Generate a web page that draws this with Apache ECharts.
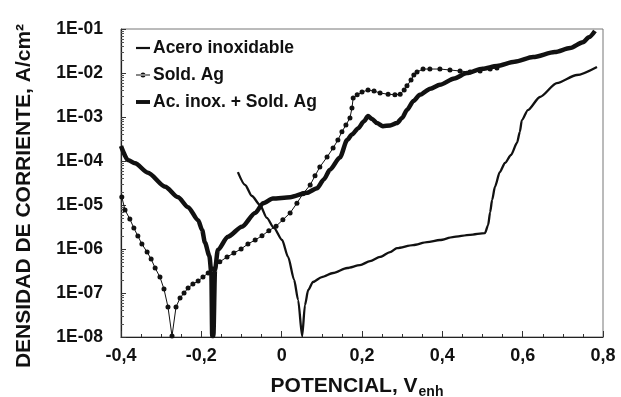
<!DOCTYPE html>
<html>
<head>
<meta charset="utf-8">
<script src="https://cdn.jsdelivr.net/npm/echarts@6/dist/echarts.min.js"></script>
<style>html,body{margin:0;padding:0;background:#fff}#c{width:621px;height:397px}</style>
</head>
<body>
<div id="c"></div>
<script>
// Series names
const seriesNames = ["Acero inoxidable", "Sold. Ag", "Ac. inox. + Sold. Ag"];

// Acero inoxidable (V, A/cm2)
const aceroV = [-0.109,-0.091,-0.074,-0.054,-0.037,-0.019,0.001,0.016,0.031,0.041,0.051,0.058,0.066,0.078,0.100,0.128,0.163,0.195,0.220,0.245,0.270,0.287,0.327,0.362,0.394,0.426,0.469,0.506,0.514,0.519,0.524,0.531,0.543,0.556,0.571,0.586,0.593,0.598,0.613,0.643,0.685,0.735,0.785];
const aceroI = [5.6e-5,2.85e-5,1.6e-5,1.0e-5,5.1e-6,3.0e-6,1.6e-6,6.6e-7,2.0e-7,6.9e-8,1.05e-8,5.3e-8,1.17e-7,1.78e-7,2.3e-7,2.85e-7,3.7e-7,4.3e-7,5.3e-7,6.6e-7,8.5e-7,1.05e-6,1.23e-6,1.44e-6,1.6e-6,1.87e-6,2.1e-6,2.3e-6,3.5e-6,6.9e-6,1.3e-5,2.6e-5,5.6e-5,9.0e-5,1.37e-4,2.6e-4,4.6e-4,8.5e-4,1.44e-3,2.85e-3,5.9e-3,9.0e-3,1.37e-2];

// Sold. Ag
const soldV = [-0.398,-0.390,-0.378,-0.368,-0.358,-0.348,-0.335,-0.325,-0.315,-0.303,-0.293,-0.283,-0.273,-0.263,-0.253,-0.243,-0.233,-0.221,-0.208,-0.196,-0.183,-0.171,-0.154,-0.136,-0.119,-0.101,-0.084,-0.066,-0.049,-0.032,-0.014,0.003,0.021,0.038,0.053,0.071,0.083,0.095,0.113,0.128,0.140,0.150,0.160,0.170,0.175,0.178,0.188,0.200,0.215,0.230,0.245,0.265,0.282,0.295,0.305,0.312,0.322,0.329,0.337,0.352,0.369,0.394,0.419,0.444,0.469,0.494,0.519,0.536];
const soldI = [1.52e-5,7.7e-6,4.8e-6,3.0e-6,1.97e-6,1.3e-6,8.5e-7,5.9e-7,3.7e-7,2.3e-7,1.23e-7,4.8e-8,1.05e-8,4.8e-8,7.7e-8,1.0e-7,1.3e-7,1.6e-7,1.87e-7,2.3e-7,2.85e-7,3.5e-7,5.1e-7,6.6e-7,8.1e-7,1.0e-6,1.3e-6,1.6e-6,2.0e-6,2.6e-6,3.3e-6,4.6e-6,6.6e-6,1.1e-5,1.8e-5,2.85e-5,4.6e-5,7.3e-5,1.23e-4,1.97e-4,3.0e-4,4.6e-4,6.6e-4,9.5e-4,1.6e-3,2.7e-3,3.2e-3,3.7e-3,4.1e-3,3.9e-3,3.5e-3,3.3e-3,3.2e-3,3.3e-3,4.1e-3,5.1e-3,6.9e-3,9.0e-3,1.05e-2,1.23e-2,1.23e-2,1.23e-2,1.17e-2,1.11e-2,1.05e-2,1.11e-2,1.23e-2,1.3e-2];

// Ac. inox. + Sold. Ag
const mixV = [-0.400,-0.383,-0.365,-0.333,-0.290,-0.258,-0.233,-0.208,-0.198,-0.191,-0.180,-0.175,-0.173,-0.170,-0.166,-0.159,-0.134,-0.099,-0.066,-0.046,-0.022,0.021,0.063,0.088,0.105,0.120,0.145,0.163,0.175,0.190,0.205,0.215,0.225,0.237,0.252,0.270,0.287,0.300,0.312,0.328,0.344,0.370,0.394,0.430,0.461,0.500,0.536,0.580,0.626,0.680,0.718,0.750,0.765,0.780];
const mixI = [2.2e-4,1.05e-4,8.9e-5,5.4e-5,2.6e-5,1.5e-5,8.9e-6,4.5e-6,2.7e-6,1.4e-6,7.0e-7,2.8e-7,1.05e-8,1.05e-8,3.3e-7,9.5e-7,1.9e-6,3.2e-6,6.6e-6,1.1e-5,1.4e-5,1.5e-5,1.9e-5,2.4e-5,3.8e-5,6.3e-5,1.2e-4,3.0e-4,4.0e-4,5.5e-4,8.0e-4,1.05e-3,9.0e-4,7.3e-4,6.2e-4,6.4e-4,7.3e-4,9.5e-4,1.45e-3,2.3e-3,3.2e-3,4.4e-3,5.4e-3,7.5e-3,1.0e-2,1.25e-2,1.45e-2,1.8e-2,2.3e-2,3.0e-2,3.7e-2,5.0e-2,6.5e-2,9.0e-2];

// Axis settings
const xMin = -0.4, xMax = 0.8, xStep = 0.2;
const yMin = 1e-8, yMax = 1e-1;

const zip = (a, b) => a.map((v, i) => [v, b[i]]);
const FONT = '"Liberation Sans", Arial, sans-serif';

const legendIcons = [
  'path://M0,0H14V2.2H0Z',
  'path://M0,2.6H14V3.4H0Z M4.5,3a2.5,2.5 0 1,0 5,0a2.5,2.5 0 1,0 -5,0Z',
  'path://M0,0H15V4.2H0Z'
];

const chart = echarts.init(document.getElementById('c'), null, {renderer: 'canvas'});
chart.setOption({
  animation: false,
  backgroundColor: '#fff',
  grid: {left: 121, top: 29, width: 482, height: 308, containLabel: false, outerBoundsMode: 'none',
         show: true, borderColor: '#777', borderWidth: 1, backgroundColor: 'transparent'},
  legend: {
    orient: 'vertical', left: 131, top: 33, itemWidth: 14, itemHeight: 14, itemGap: 7,
    textStyle: {fontFamily: FONT, fontWeight: 'bold', fontSize: 17.5, color: '#111', lineHeight: 20, padding: [0, 0, 0, -2]},
    data: seriesNames.map((n, i) => ({name: n, icon: legendIcons[i], itemStyle: {color: '#111'}}))
  },
  xAxis: {
    type: 'value', min: xMin, max: xMax, interval: xStep,
    axisLine: {show: true, onZero: false, lineStyle: {color: '#222', width: 1.2}},
    axisTick: {show: true, inside: true, length: 6, lineStyle: {color: '#333'}},
    minorTick: {show: true, splitNumber: 4, length: 3, lineStyle: {color: '#333'}},
    splitLine: {show: false},
    axisLabel: {
      margin: 10, fontFamily: FONT, fontWeight: 'bold', fontSize: 18, color: '#111',
      formatter: v => { const r = Math.round(v * 10) / 10; return r === 0 ? '0' : r.toFixed(1).replace('.', ','); }
    },
    name: '{a|POTENCIAL, V}{b|enh}', nameLocation: 'middle', nameGap: 36,
    nameTextStyle: {
      padding: [0, 10, 0, 0],
      rich: {
        a: {fontFamily: FONT, fontWeight: 'bold', fontSize: 21, color: '#111'},
        b: {fontFamily: FONT, fontWeight: 'bold', fontSize: 14, color: '#111', padding: [12, 0, 0, 1]}
      }
    }
  },
  yAxis: {
    type: 'log', logBase: 10, min: yMin, max: yMax,
    axisLine: {show: true, onZero: false, lineStyle: {color: '#222', width: 1.2}},
    axisTick: {show: true, inside: true, length: 5, lineStyle: {color: '#333'}},
    minorTick: {show: true, splitNumber: 9, length: 3, lineStyle: {color: '#555'}},
    splitLine: {show: false},
    axisLabel: {
      margin: 18, fontFamily: FONT, fontWeight: 'bold', fontSize: 17.5, color: '#111',
      formatter: v => { const e = Math.round(Math.log10(v)); return '1E-' + String(-e).padStart(2, '0'); }
    },
    name: 'DENSIDAD DE CORRIENTE, A/cm²', nameLocation: 'middle', nameGap: 86,
    nameTextStyle: {fontFamily: FONT, fontWeight: 'bold', fontSize: 21, color: '#111', padding: [0, 26, 0, 0]}
  },
  series: [
    {name: seriesNames[0], type: 'line', data: zip(aceroV, aceroI), showSymbol: false, symbol: 'none',
     smooth: 0.25, smoothMonotone: 'x',
     lineStyle: {color: '#111', width: 2.3}, itemStyle: {color: '#111'}},
    {name: seriesNames[1], type: 'line', data: zip(soldV, soldI), symbol: 'circle', symbolSize: 5, showSymbol: true,
     lineStyle: {color: '#111', width: 1}, itemStyle: {color: '#111'}},
    {name: seriesNames[2], type: 'line', data: zip(mixV, mixI), showSymbol: false, symbol: 'none',
     smooth: 0.25, smoothMonotone: 'x',
     lineStyle: {color: '#111', width: 4.5}, itemStyle: {color: '#111'}}
  ]
});
</script>
</body>
</html>
